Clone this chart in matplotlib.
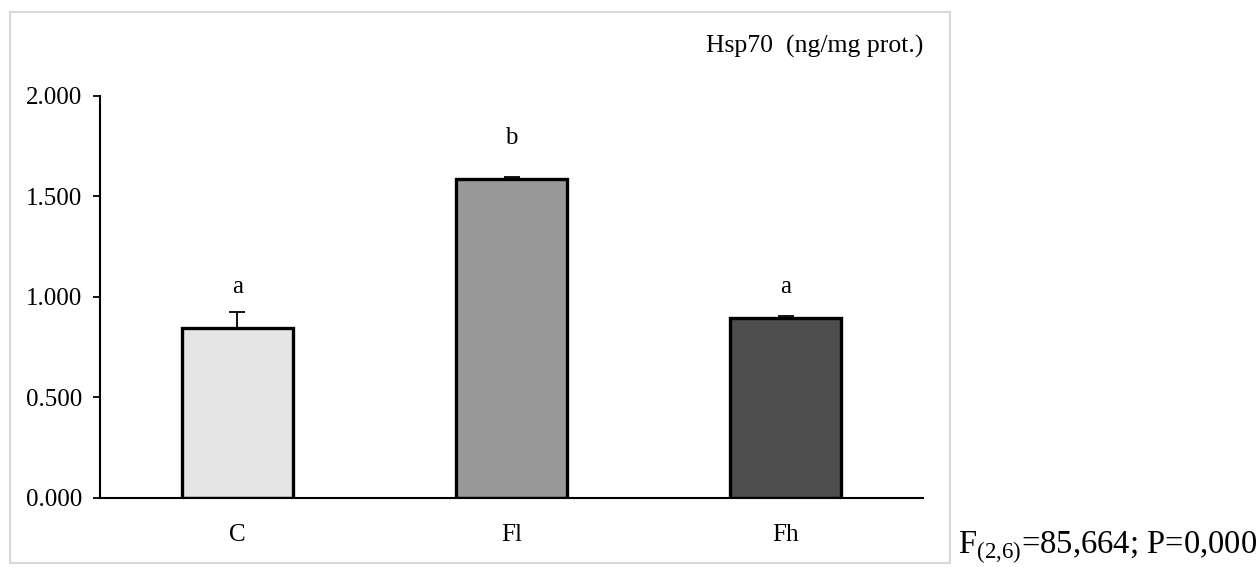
import matplotlib
matplotlib.use("Agg")
import matplotlib.pyplot as plt
from matplotlib.patches import Rectangle

plt.rcParams['font.family'] = ['Liberation Serif', 'DejaVu Serif']
plt.rcParams['mathtext.fontset'] = 'custom'
plt.rcParams['mathtext.rm'] = 'Liberation Serif'

groups = ["C", "Fl", "Fh"]
hsp70 = [0.846, 1.587, 0.896]
sem = [0.080, 0.010, 0.010]
letters = ["a", "b", "a"]
letter_y = [1.05, 1.79, 1.05]
colors = ["#e5e5e5", "#999999", "#4d4d4d"]
yticks = [0.0, 0.5, 1.0, 1.5, 2.0]
ytick_labels = ["0.000", "0.500", "1.000", "1.500", "2.000"]

fig = plt.figure(figsize=(12.58, 5.67), dpi=100)
ax = fig.add_axes([0.0795, 0.1217, 0.6542, 0.709])

x = list(range(len(groups)))
ax.bar(x, hsp70, width=0.405, color=colors, edgecolor="black", linewidth=2.4, zorder=2)
ax.errorbar(x, hsp70, yerr=[[0] * len(sem), sem], fmt="none", ecolor="black",
            elinewidth=1.3, capsize=6, capthick=1.3, zorder=3)

for xi, ly, lab in zip(x, letter_y, letters):
    ax.text(xi, ly, lab, ha="center", va="center", fontsize=18)

ax.set_xlim(-0.5, 2.5)
ax.set_ylim(0, 2.0)
ax.set_yticks(yticks)
ax.set_yticklabels(ytick_labels)
ax.set_xticks(x)
ax.set_xticklabels(groups)
ax.tick_params(axis="y", direction="out", length=5, width=1.3, pad=8, labelsize=18)
ax.tick_params(axis="x", length=0, pad=19, labelsize=18)
for s in ["top", "right"]:
    ax.spines[s].set_visible(False)
for s in ["left", "bottom"]:
    ax.spines[s].set_linewidth(1.5)
    ax.spines[s].set_color("black")

ax.text(1.0, 1.122, "Hsp70  (ng/mg prot.)", transform=ax.transAxes,
        ha="right", va="center", fontsize=18.5)

fig.patches.append(Rectangle((0.008, 0.007), 0.747, 0.972, transform=fig.transFigure,
                             fill=False, edgecolor="#d9d9d9", linewidth=1.5))

fig.text(0.7615, 0.034, r"F$_{\mathrm{(2{,}6)}}$=85,664; P=0,000", ha="left", va="center",
         fontsize=23.5)

fig.savefig("out.png", dpi=100)
